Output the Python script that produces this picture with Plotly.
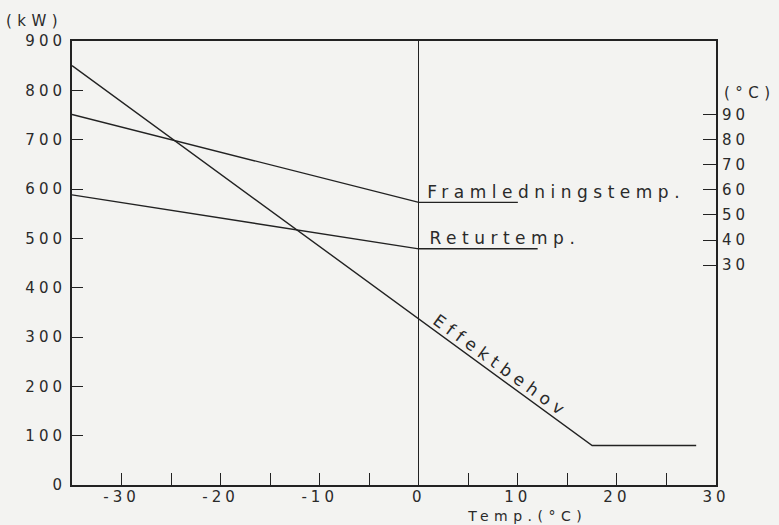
import plotly.graph_objects as go

# Outdoor temperature (°C) and heat demand (kW)
effekt_temp = [-35, 17.5, 28]
effekt_kw = [850, 80, 80]

# Supply and return water temperatures (°C) against outdoor temperature
fram_temp = [-35, 0, 10]
fram_c = [90, 55, 55]
retur_temp = [-35, 0, 12]
retur_c = [58, 36.5, 36.5]

x_tickvals = [-30, -25, -20, -15, -10, -5, 0, 5, 10, 15, 20, 25, 30]
x_ticktext = ["-30", "", "-20", "", "-10", "", "0", "", "10", "", "20", "", "30"]
kw_tickvals = [0, 100, 200, 300, 400, 500, 600, 700, 800, 900]
c_tickvals = [30, 40, 50, 60, 70, 80, 90]

ink = "#222222"
paper = "#f3f3f1"
font = dict(family="DejaVu Sans", size=15, color="#2a2a2a")

fig = go.Figure()
fig.add_trace(go.Scatter(x=effekt_temp, y=effekt_kw, mode="lines",
                         line=dict(color=ink, width=1.4), yaxis="y"))
fig.add_trace(go.Scatter(x=fram_temp, y=fram_c, mode="lines",
                         line=dict(color=ink, width=1.4), yaxis="y2"))
fig.add_trace(go.Scatter(x=retur_temp, y=retur_c, mode="lines",
                         line=dict(color=ink, width=1.4), yaxis="y2"))

fig.update_layout(
    width=779, height=525,
    margin=dict(l=72, r=63, t=41, b=40),
    paper_bgcolor=paper, plot_bgcolor=paper,
    showlegend=False,
    font=font,
    xaxis=dict(range=[-35, 30], tickvals=x_tickvals, ticktext=x_ticktext,
               ticks="inside", ticklen=12, tickwidth=1.3, tickcolor=ink,
               showline=True, linecolor=ink, linewidth=2, mirror=True,
               showgrid=False, zeroline=True, zerolinecolor=ink, zerolinewidth=1.3,
               ticklabelstandoff=-3),
    yaxis=dict(range=[0, 900], tickvals=kw_tickvals,
               ticks="inside", ticklen=11, tickwidth=1.3, tickcolor=ink,
               showline=True, linecolor=ink, linewidth=2, mirror=True,
               showgrid=False, zeroline=False, ticklabelstandoff=1),
    yaxis2=dict(range=[-57.6, 119.3], tickvals=c_tickvals, overlaying="y", side="right",
                ticks="inside", ticklen=13, tickwidth=1.3, tickcolor=ink,
                showline=False, showgrid=False, zeroline=False, ticklabelstandoff=5),
)

label_font = dict(size=17)
annotations = [
    dict(text="Framledningstemp.", x=13.9, y=59.1, xref="x", yref="y2",
         xanchor="center", yanchor="middle", showarrow=False, font=label_font),
    dict(text="Returtemp.", x=8.7, y=40.8, xref="x", yref="y2",
         xanchor="center", yanchor="middle", showarrow=False, font=label_font),
    dict(text="Effektbehov", x=8.3, y=241, xref="x", yref="y", textangle=36,
         xanchor="center", yanchor="middle", showarrow=False, font=label_font),
    dict(text="(kW)", x=-0.0575, y=1.044, xref="paper", yref="paper",
         xanchor="center", yanchor="middle", showarrow=False),
    dict(text="(°C)", x=1.053, y=0.882, xref="paper", yref="paper",
         xanchor="center", yanchor="middle", showarrow=False),
    dict(text="Temp.(°C)", x=0.7065, y=-0.0698, xref="paper", yref="paper",
         xanchor="center", yanchor="middle", showarrow=False, font=dict(size=14)),
]
fig.update_layout(annotations=annotations)

# Wide, evenly spaced lettering
spacing_js = """
document.querySelectorAll('.main-svg text').forEach(function(t){
  t.style.letterSpacing = '4px';
});
document.querySelectorAll('.main-svg .annotation-text').forEach(function(t){
  t.style.letterSpacing = '5.5px';
});
"""

fig.write_html("out.html", post_script=spacing_js)
